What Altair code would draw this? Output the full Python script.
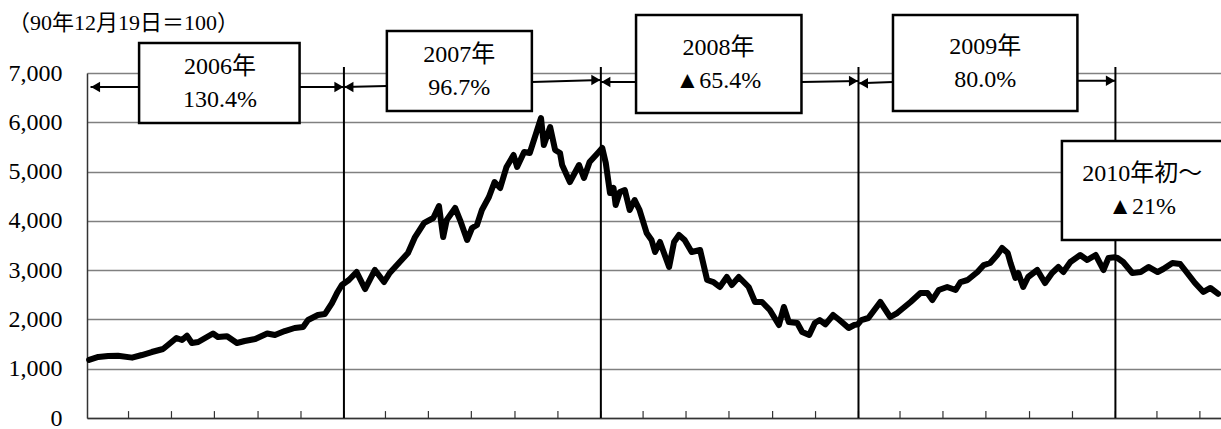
import altair as alt
import pandas as pd

# Shanghai composite index (1990-12-19 = 100), readings roughly every 1-2 weeks
dates = [
    "2006-01-04", "2006-01-17", "2006-01-31", "2006-02-14", "2006-03-06", "2006-03-20",
    "2006-04-03", "2006-04-19", "2006-04-26", "2006-05-08", "2006-05-16", "2006-05-23",
    "2006-05-30", "2006-06-08", "2006-06-29", "2006-07-06", "2006-07-19", "2006-08-02",
    "2006-08-13", "2006-08-28", "2006-09-14", "2006-09-25", "2006-10-09", "2006-10-23",
    "2006-11-04", "2006-11-11", "2006-11-25", "2006-12-05", "2006-12-15", "2006-12-23",
    "2006-12-29",
    "2007-01-08", "2007-01-19", "2007-01-31", "2007-02-14", "2007-02-27", "2007-03-07",
    "2007-03-20", "2007-04-02", "2007-04-12", "2007-04-25", "2007-05-08", "2007-05-16",
    "2007-05-22", "2007-05-27", "2007-06-08", "2007-06-15", "2007-06-25", "2007-07-02",
    "2007-07-09", "2007-07-16", "2007-07-26", "2007-08-03", "2007-08-11", "2007-08-20",
    "2007-08-30", "2007-09-04", "2007-09-14", "2007-09-22", "2007-10-08", "2007-10-12",
    "2007-10-21", "2007-10-28", "2007-11-04", "2007-11-07", "2007-11-18", "2007-12-01",
    "2007-12-08", "2007-12-16", "2007-12-29",
    "2008-01-03", "2008-01-08", "2008-01-14", "2008-01-19", "2008-01-22", "2008-01-28",
    "2008-02-04", "2008-02-11", "2008-02-18", "2008-02-25", "2008-03-06", "2008-03-13",
    "2008-03-18", "2008-03-25", "2008-04-07", "2008-04-14", "2008-04-21", "2008-04-29",
    "2008-05-09", "2008-05-21", "2008-05-31", "2008-06-09", "2008-06-18", "2008-06-28",
    "2008-07-05", "2008-07-15", "2008-07-29", "2008-08-07", "2008-08-17", "2008-08-28",
    "2008-09-10", "2008-09-17", "2008-09-24", "2008-10-06", "2008-10-13", "2008-10-23",
    "2008-10-31", "2008-11-07", "2008-11-15", "2008-11-26", "2008-12-05", "2008-12-18",
    "2008-12-26", "2008-12-31",
    "2009-01-05", "2009-01-15", "2009-02-01", "2009-02-15", "2009-02-25", "2009-03-16",
    "2009-03-30", "2009-04-09", "2009-04-16", "2009-04-25", "2009-05-07", "2009-05-19",
    "2009-05-26", "2009-06-05", "2009-06-19", "2009-06-28", "2009-07-07", "2009-07-17",
    "2009-07-24", "2009-08-01", "2009-08-05", "2009-08-12", "2009-08-16", "2009-08-23",
    "2009-08-30", "2009-09-12", "2009-09-23", "2009-10-03", "2009-10-12", "2009-10-19",
    "2009-10-29", "2009-11-12", "2009-11-22", "2009-12-04", "2009-12-15", "2009-12-22",
    "2009-12-31",
    "2010-01-04", "2010-01-12", "2010-01-25", "2010-02-06", "2010-02-17", "2010-03-02",
    "2010-03-10", "2010-03-23", "2010-04-03", "2010-04-13", "2010-04-24", "2010-05-06",
    "2010-05-16", "2010-05-27",
]
values = [
    1180, 1238, 1258, 1264, 1225, 1278,
    1339, 1400, 1481, 1623, 1583, 1670,
    1522, 1542, 1715, 1644, 1660, 1522,
    1562, 1603, 1715, 1684, 1765, 1826,
    1846, 1988, 2090, 2110, 2333, 2557,
    2700,
    2800, 2962, 2617, 3003, 2759, 2942,
    3145, 3348, 3672, 3957, 4058, 4301,
    3672, 4017, 4261, 4017, 3611, 3855,
    3916, 4220, 4484, 4788, 4667, 5093,
    5336, 5093, 5397, 5377, 6087, 5539,
    5904, 5438, 5377, 5133, 4788, 5133,
    4870, 5194, 5397,
    5478, 5174, 4565, 4667, 4322, 4586,
    4626, 4220, 4423, 4220, 3754, 3611,
    3368, 3571, 3064, 3571, 3713, 3611,
    3368, 3409, 2800, 2759, 2658, 2861,
    2699, 2861, 2658, 2354, 2354, 2191,
    1887, 2252, 1948, 1927, 1745, 1684,
    1927, 1988, 1900, 2090, 1988, 1826,
    1887, 1900,
    1988, 2029, 2354, 2049, 2130, 2354,
    2536, 2536, 2394, 2597, 2658, 2597,
    2759, 2800, 2962, 3104, 3145, 3307,
    3449, 3348, 3145, 2841, 2942, 2658,
    2861, 3003, 2739, 2942, 3064, 2962,
    3165, 3307, 3206, 3307, 3003, 3246,
    3260,
    3246, 3165, 2942, 2962, 3064, 2962,
    3023, 3145, 3125, 2942, 2739, 2557,
    2638, 2520,
]

# Year boundaries
year_starts = ["2007-01-01", "2008-01-01", "2009-01-01", "2010-01-01"]

# Annual change call-out boxes
box_labels = ["2006年\n130.4%", "2007年\n96.7%", "2008年\n▲65.4%", "2009年\n80.0%", "2010年初～\n▲21%"]
box_start = ["2006-03-16", "2007-03-03", "2008-02-20", "2009-02-19", "2009-10-17"]
box_end = ["2006-10-30", "2007-09-25", "2008-10-12", "2009-11-08", "2010-06-12"]
box_top = [7609, 7852, 8177, 8177, 5620]
box_bottom = [5986, 6229, 6188, 6229, 3612]
box_center = ["2006-07-09", "2007-06-14", "2008-06-16", "2009-06-30", "2010-02-08"]

# Double-headed period arrows (one segment on each side of a box)
arrow_from = ["2006-01-06", "2006-10-30", "2007-01-01", "2007-09-25",
              "2008-01-01", "2008-10-12", "2009-01-01", "2009-11-08"]
arrow_to = ["2006-03-16", "2007-01-01", "2007-03-03", "2008-01-01",
            "2008-02-20", "2009-01-01", "2009-02-19", "2010-01-01"]
arrow_from_y = [6716, 6716, 6716, 6817, 6817, 6817, 6790, 6844]
arrow_to_y = [6716, 6716, 6736, 6858, 6817, 6838, 6817, 6844]
head_left = ["2006-01-06", "2007-01-01", "2008-01-01", "2009-01-01"]
head_left_y = [6716, 6716, 6817, 6790]
head_right = ["2007-01-01", "2008-01-01", "2009-01-01", "2010-01-01"]
head_right_y = [6716, 6858, 6838, 6844]

SERIF = "'Liberation Serif', 'Times New Roman', 'Noto Sans CJK JP', serif"

series = pd.DataFrame({"date": dates, "value": values})
years = pd.DataFrame({"date": year_starts, "lo": 0, "hi": 7122})
ticks = pd.DataFrame({"date": [d.strftime("%Y-%m-%d") for d in pd.date_range("2006-03-01", "2010-05-01", freq="2MS")],
                      "lo": 0, "hi": 140})
boxes = pd.DataFrame({"start": box_start, "end": box_end, "top": box_top, "bottom": box_bottom,
                      "center": box_center, "mid": [(t + b) / 2 for t, b in zip(box_top, box_bottom)],
                      "label": box_labels})
arrows = pd.DataFrame({"d1": arrow_from, "d2": arrow_to, "y1": arrow_from_y, "y2": arrow_to_y})
lheads = pd.DataFrame({"date": head_left, "y": head_left_y})
rheads = pd.DataFrame({"date": head_right, "y": head_right_y})

x_scale = alt.Scale(type="utc", domain=[alt.DateTime(year=2006, month=1, date=1, utc=True),
                                        alt.DateTime(year=2010, month=5, date=31, utc=True)])
y_scale = alt.Scale(domain=[0, 7000], nice=False)

# Same axis definitions in every layer so the shared axes merge cleanly
x_axis = alt.Axis(labels=False, ticks=False, grid=False, title=None,
                  domainColor="#333333", domainWidth=1.5)
y_axis = alt.Axis(values=list(range(0, 7001, 1000)), format=",d", title=None,
                  labelFont=SERIF, labelFontSize=24, labelColor="black",
                  labelPadding=25, ticks=False, tickSize=0,
                  domainColor="#333333", domainWidth=1.5,
                  grid=True, gridColor="#808080", gridWidth=1.5)


def xenc(field):
    return alt.X(field, scale=x_scale, axis=x_axis)


def yenc(field):
    return alt.Y(field, scale=y_scale, axis=y_axis)


line = alt.Chart(series).mark_line(color="black", strokeWidth=6, strokeJoin="round", strokeCap="round").encode(
    x=xenc("date:T"), y=yenc("value:Q"),
)

year_lines = alt.Chart(years).mark_rule(color="black", strokeWidth=2).encode(
    x=xenc("date:T"), y=yenc("lo:Q"), y2="hi:Q",
)

tick_marks = alt.Chart(ticks).mark_rule(color="#333333", strokeWidth=1.2).encode(
    x=xenc("date:T"), y=yenc("lo:Q"), y2="hi:Q",
)

box_rects = alt.Chart(boxes).mark_rect(fill="white", stroke="black", strokeWidth=2.5).encode(
    x=xenc("start:T"), x2="end:T", y=yenc("bottom:Q"), y2="top:Q",
)

box_text = alt.Chart(boxes).mark_text(font=SERIF, fontSize=24, lineHeight=33, lineBreak="\n", dy=-16,
                                      align="center", baseline="middle", color="black").encode(
    x=xenc("center:T"), y=yenc("mid:Q"), text="label:N",
)

arrow_lines = alt.Chart(arrows).mark_rule(color="black", strokeWidth=2).encode(
    x=xenc("d1:T"), x2="d2:T", y=yenc("y1:Q"), y2="y2:Q",
)

left_heads = alt.Chart(lheads).mark_point(shape="triangle-left", filled=True, color="black",
                                          size=110, opacity=1, xOffset=5).encode(
    x=xenc("date:T"), y=yenc("y:Q"),
)

right_heads = alt.Chart(rheads).mark_point(shape="triangle-right", filled=True, color="black",
                                           size=110, opacity=1, xOffset=-5).encode(
    x=xenc("date:T"), y=yenc("y:Q"),
)

chart = alt.layer(
    tick_marks, year_lines, line, box_rects, box_text, arrow_lines, left_heads, right_heads
).properties(
    width=1134,
    height=345,
    autosize=alt.AutoSizeParams(type="none"),
    padding={"left": 87, "top": 73, "right": 0, "bottom": 11},
    title=alt.TitleParams("（90年12月19日＝100）", anchor="start", frame="bounds",
                          font=SERIF, fontSize=22, fontWeight="normal", color="black", offset=-21),
).configure_view(strokeWidth=0).configure(background="white")

chart.save("out.html", embed_options={"renderer": "svg", "actions": False})
